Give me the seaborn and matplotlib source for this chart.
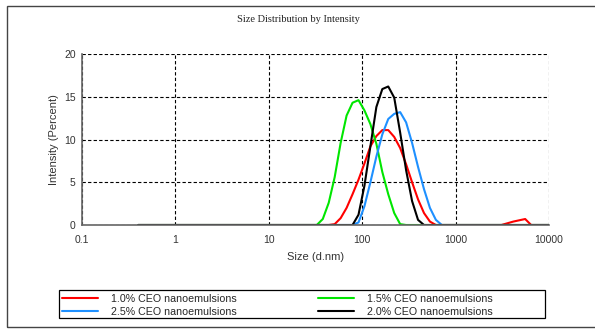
import numpy as np
import pandas as pd
import matplotlib
matplotlib.use("Agg")
import matplotlib.pyplot as plt
import matplotlib.ticker as mticker
from matplotlib.patches import Rectangle
import seaborn as sns

sns.set_style("white")
plt.rcParams['font.family'] = ['Liberation Sans', 'DejaVu Sans']

# DLS size bins (d.nm)
size_bins = [0.4, 0.4632, 0.5365, 0.6213, 0.7195, 0.8332, 0.9649, 1.117, 1.294, 1.499,
             1.736, 2.01, 2.328, 2.696, 3.122, 3.615, 4.187, 4.849, 5.615, 6.503,
             7.531, 8.721, 10.1, 11.7, 13.54, 15.69, 18.17, 21.04, 24.36, 28.21,
             32.67, 37.84, 43.82, 50.75, 58.77, 68.06, 78.82, 91.28, 105.7, 122.4,
             141.8, 164.2, 190.1, 220.2, 255.0, 295.3, 342.0, 396.1, 458.7, 531.2,
             615.1, 712.4, 825.0, 955.4, 1106, 1281, 1484, 1718, 1990, 2305,
             2669, 3091, 3580, 4145, 4801, 5560, 6439, 7456, 8635, 10000]

# intensity (%) per bin, bins 0..29 are all zero
zeros30 = [0.0] * 30
int_10 = zeros30 + [0, 0, 0, 0.1, 0.8, 2.0, 3.6, 5.3, 7.2, 9.2,
                    10.4, 11.1, 11.1, 10.3, 9.0, 7.1, 5.0, 3.0, 1.4, 0.4,
                    0, 0, 0, 0, 0, 0, 0, 0, 0, 0,
                    0, 0, 0.2, 0.4, 0.55, 0.7, 0, 0, 0, 0]
int_15 = zeros30 + [0, 0.7, 2.6, 5.6, 9.6, 12.8, 14.3, 14.6, 13.4, 11.8,
                    9.5, 6.2, 3.6, 1.4, 0.1, 0, 0, 0, 0, 0,
                    0, 0, 0, 0, 0, 0, 0, 0, 0, 0,
                    0, 0, 0, 0, 0, 0, 0, 0, 0, 0]
int_25 = zeros30 + [0, 0, 0, 0, 0, 0, 0, 0.3, 2.2, 5.0,
                    8.0, 10.6, 12.4, 13.0, 13.2, 12.0, 9.6, 6.8, 4.2, 2.0,
                    0.6, 0, 0, 0, 0, 0, 0, 0, 0, 0,
                    0, 0, 0, 0, 0, 0, 0, 0, 0, 0]
int_20 = zeros30 + [0, 0, 0, 0, 0, 0, 0, 1.2, 4.6, 9.2,
                    13.8, 15.9, 16.2, 14.9, 10.8, 6.4, 2.8, 0.6, 0, 0,
                    0, 0, 0, 0, 0, 0, 0, 0, 0, 0,
                    0, 0, 0, 0, 0, 0, 0, 0, 0, 0]

labels = ["1.0% CEO nanoemulsions", "1.5% CEO nanoemulsions",
          "2.5% CEO nanoemulsions", "2.0% CEO nanoemulsions"]
colors = ["#ff0000", "#00e600", "#1e90ff", "#000000"]
x_ticks = [0.1, 1, 10, 100, 1000, 10000]
x_tick_labels = ["0.1", "1", "10", "100", "1000", "10000"]
y_ticks = [0, 5, 10, 15, 20]

df = pd.concat([
    pd.DataFrame({"Size": size_bins, "Intensity": vals, "Sample": lab})
    for vals, lab in zip([int_10, int_15, int_25, int_20], labels)
])

fig = plt.figure(figsize=(5.95, 3.29), dpi=100)
ax = fig.add_axes([82 / 595, 1 - 225 / 329, (549 - 82) / 595, (225 - 54) / 329])

sns.lineplot(data=df, x="Size", y="Intensity", hue="Sample", hue_order=labels,
             palette=colors, linewidth=1.5, legend=False, ax=ax, estimator=None)

ax.set_xscale("log")
ax.set_xlim(0.1, 10000)
ax.set_ylim(0, 20)
ax.set_xticks(x_ticks)
ax.set_xticklabels(x_tick_labels)
ax.xaxis.set_minor_locator(mticker.LogLocator(base=10, subs=np.arange(2, 10), numticks=20))
ax.xaxis.set_minor_formatter(mticker.NullFormatter())
ax.set_yticks(y_ticks)
ax.yaxis.set_minor_locator(mticker.MultipleLocator(2.5))

ax.grid(True, which="major", color="black", linestyle=(0, (3, 2)), linewidth=0.8)
ax.set_axisbelow(True)
for side in ["top", "right"]:
    ax.spines[side].set_visible(False)
for side in ["left", "bottom"]:
    ax.spines[side].set_color("#666666")
    ax.spines[side].set_linewidth(1.2)

ax.tick_params(which="major", direction="inout", length=5, width=1, color="#666666",
               labelsize=7.5, labelcolor="#333333", pad=2)
ax.tick_params(axis="x", which="major", pad=5)
ax.tick_params(which="minor", direction="in", length=3, width=1, color="#666666")

ax.set_xlabel("Size (d.nm)", fontsize=8, color="#333333", labelpad=5)
ax.set_ylabel("Intensity (Percent)", fontsize=8, color="#333333", labelpad=4)

fig.text(298 / 595, 1 - 20 / 329, "Size Distribution by Intensity", ha="center", va="center",
         fontsize=7.5, family=["Liberation Serif", "DejaVu Serif"], color="#222222")

# legend below the plot, two columns
handles = ax.lines[:4]
order = [0, 2, 1, 3]
fig.legend([handles[i] for i in order], [labels[i] for i in order],
           loc="upper left", bbox_to_anchor=(62 / 595, 1 - 297 / 329, (493 - 62) / 595, 0.01),
           mode="expand", ncol=2, frameon=False, fontsize=7.7, borderpad=0,
           borderaxespad=0, handlelength=3.4, handletextpad=1.2, labelspacing=0.3)
fig.patches.append(Rectangle((59 / 595, 1 - 317.5 / 329), 486 / 595, 27.5 / 329,
                             transform=fig.transFigure, fill=False, edgecolor="black", linewidth=0.9))
fig.patches.append(Rectangle((7 / 595, 1 - 327 / 329), 0.99, 321 / 329,
                             transform=fig.transFigure, fill=False, edgecolor="#444444", linewidth=1.0))

fig.savefig("out.png", dpi=100)
